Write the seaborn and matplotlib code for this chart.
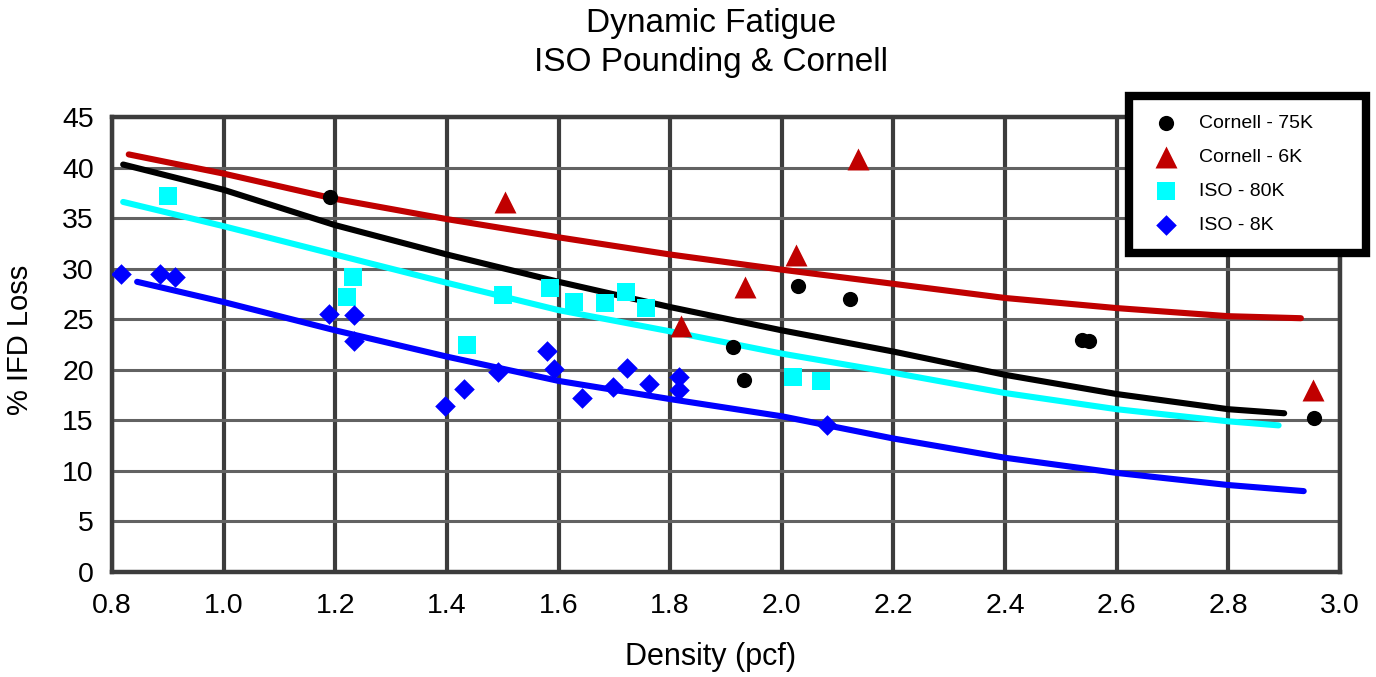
import numpy as np
import pandas as pd
import seaborn as sns
import matplotlib.pyplot as plt

# measured data points
cornell75_x = [1.19, 1.913, 1.933, 2.029, 2.123, 2.538, 2.55, 2.953]
cornell75_y = [37.1, 22.3, 19.0, 28.3, 27.0, 22.9, 22.8, 15.2]

cornell6_x = [1.504, 1.82, 1.934, 2.026, 2.137, 2.951]
cornell6_y = [36.6, 24.3, 28.2, 31.4, 40.8, 18.0]

iso80_x = [0.90, 1.221, 1.232, 1.436, 1.501, 1.585, 1.628, 1.684, 1.721, 1.756, 2.02, 2.071]
iso80_y = [37.2, 27.2, 29.2, 22.5, 27.4, 28.1, 26.7, 26.6, 27.7, 26.1, 19.3, 18.9]

iso8_x = [0.817, 0.886, 0.913, 1.189, 1.234, 1.234, 1.397, 1.431, 1.492, 1.579, 1.592,
          1.642, 1.698, 1.723, 1.762, 1.815, 1.815, 2.081]
iso8_y = [29.5, 29.5, 29.2, 25.5, 25.4, 22.8, 16.4, 18.1, 19.8, 21.9, 20.1,
          17.2, 18.3, 20.2, 18.6, 19.3, 18.0, 14.5]

# trend curves
red_fit_x = [0.83, 1.0, 1.2, 1.4, 1.6, 1.8, 2.0, 2.2, 2.4, 2.6, 2.8, 2.93]
red_fit_y = [41.3, 39.4, 36.9, 34.9, 33.1, 31.4, 29.9, 28.5, 27.1, 26.1, 25.3, 25.1]
black_fit_x = [0.82, 1.0, 1.2, 1.4, 1.6, 1.8, 2.0, 2.2, 2.4, 2.6, 2.8, 2.90]
black_fit_y = [40.3, 37.8, 34.3, 31.4, 28.7, 26.2, 23.9, 21.8, 19.5, 17.6, 16.1, 15.7]
cyan_fit_x = [0.82, 1.0, 1.2, 1.4, 1.6, 1.8, 2.0, 2.2, 2.4, 2.6, 2.8, 2.89]
cyan_fit_y = [36.6, 34.2, 31.4, 28.6, 25.9, 23.8, 21.6, 19.7, 17.7, 16.1, 14.9, 14.5]
blue_fit_x = [0.845, 1.0, 1.2, 1.4, 1.6, 1.8, 2.0, 2.2, 2.4, 2.6, 2.8, 2.935]
blue_fit_y = [28.7, 26.7, 23.9, 21.3, 18.9, 17.1, 15.4, 13.2, 11.3, 9.8, 8.6, 8.0]

series_names = ["Cornell - 75K", "Cornell - 6K", "ISO - 80K", "ISO - 8K"]
xticks = [0.8, 1.0, 1.2, 1.4, 1.6, 1.8, 2.0, 2.2, 2.4, 2.6, 2.8, 3.0]
xtick_labels = ["0.8", "1.0", "1.2", "1.4", "1.6", "1.8", "2.0", "2.2", "2.4", "2.6", "2.8", "3.0"]
yticks = [0, 5, 10, 15, 20, 25, 30, 35, 40, 45]

colors = {"Cornell - 75K": "#000000", "Cornell - 6K": "#C00000",
          "ISO - 80K": "#00FFFF", "ISO - 8K": "#0000FF"}
markers = {"Cornell - 75K": "o", "Cornell - 6K": "^", "ISO - 80K": "s", "ISO - 8K": "D"}
sizes = {"Cornell - 75K": 120, "Cornell - 6K": 250, "ISO - 80K": 185, "ISO - 8K": 110}

pts = pd.concat([
    pd.DataFrame({"density": cornell75_x, "loss": cornell75_y, "series": series_names[0]}),
    pd.DataFrame({"density": cornell6_x, "loss": cornell6_y, "series": series_names[1]}),
    pd.DataFrame({"density": iso80_x, "loss": iso80_y, "series": series_names[2]}),
    pd.DataFrame({"density": iso8_x, "loss": iso8_y, "series": series_names[3]}),
], ignore_index=True)

fits = [(red_fit_x, red_fit_y, "#C00000"), (black_fit_x, black_fit_y, "#000000"),
        (cyan_fit_x, cyan_fit_y, "#00FFFF"), (blue_fit_x, blue_fit_y, "#0000FF")]

sns.set_style("white")
plt.rcParams['font.family'] = ['Liberation Sans', 'DejaVu Sans']
plt.rcParams['text.color'] = 'black'
plt.rcParams['axes.labelcolor'] = 'black'

fig = plt.figure(figsize=(13.76, 6.77), dpi=100)
ax = fig.add_axes([112 / 1376, 1 - 572 / 677, 1228 / 1376, 455 / 677])

for fx, fy, c in fits:
    sns.lineplot(x=fx, y=fy, color=c, linewidth=4.4, ax=ax, legend=False, zorder=3)

for name in series_names:
    sub = pts[pts["series"] == name]
    sns.scatterplot(data=sub, x="density", y="loss", color=colors[name], marker=markers[name],
                    s=sizes[name], linewidth=0, ax=ax, label=name, zorder=4)

ax.set_xlim(0.8, 3.0)
ax.set_ylim(0, 45)
ax.set_xticks(xticks)
ax.set_xticklabels(xtick_labels)
ax.set_yticks(yticks)
ax.tick_params(axis="both", length=0, labelsize=20.5, colors="black")
ax.tick_params(axis="x", pad=15)
ax.tick_params(axis="y", pad=13)

ax.set_axisbelow(True)
ax.xaxis.grid(True, color="#3c3c3c", linewidth=3)
ax.yaxis.grid(True, color="#626262", linewidth=2.2)
for sp in ax.spines.values():
    sp.set_visible(True)
    sp.set_color("#3c3c3c")
    sp.set_linewidth(3.2)

ax.set_xlabel("Density (pcf)", fontsize=22, color="black")
ax.set_ylabel("% IFD Loss", fontsize=21, color="black")
ax.xaxis.set_label_coords((711 - 112) / 1228, (572 - 657) / 455)
ax.xaxis.label.set_va("center")
ax.yaxis.set_label_coords((20 - 112) / 1228, (572 - 340) / 455)
ax.yaxis.label.set_va("center")

fig.suptitle("Dynamic Fatigue\nISO Pounding & Cornell", x=711 / 1376, y=1 - 43 / 677,
             va="center", fontsize=24, linespacing=1.3, color="black")

handles, labels = ax.get_legend_handles_labels()
ax.get_legend().remove()
leg = fig.legend(handles, labels, loc="upper left",
                 bbox_to_anchor=(1129 / 1376, 0.5, (1366 - 1129) / 1376, 0.5 - 96 / 677),
                 mode="expand", borderaxespad=0, fontsize=14, labelspacing=0.85,
                 borderpad=0.95, handlelength=1.9, handletextpad=0.75,
                 fancybox=False, framealpha=1, edgecolor="black")
leg.get_frame().set_linewidth(6)

fig.savefig("out.png", dpi=100)
